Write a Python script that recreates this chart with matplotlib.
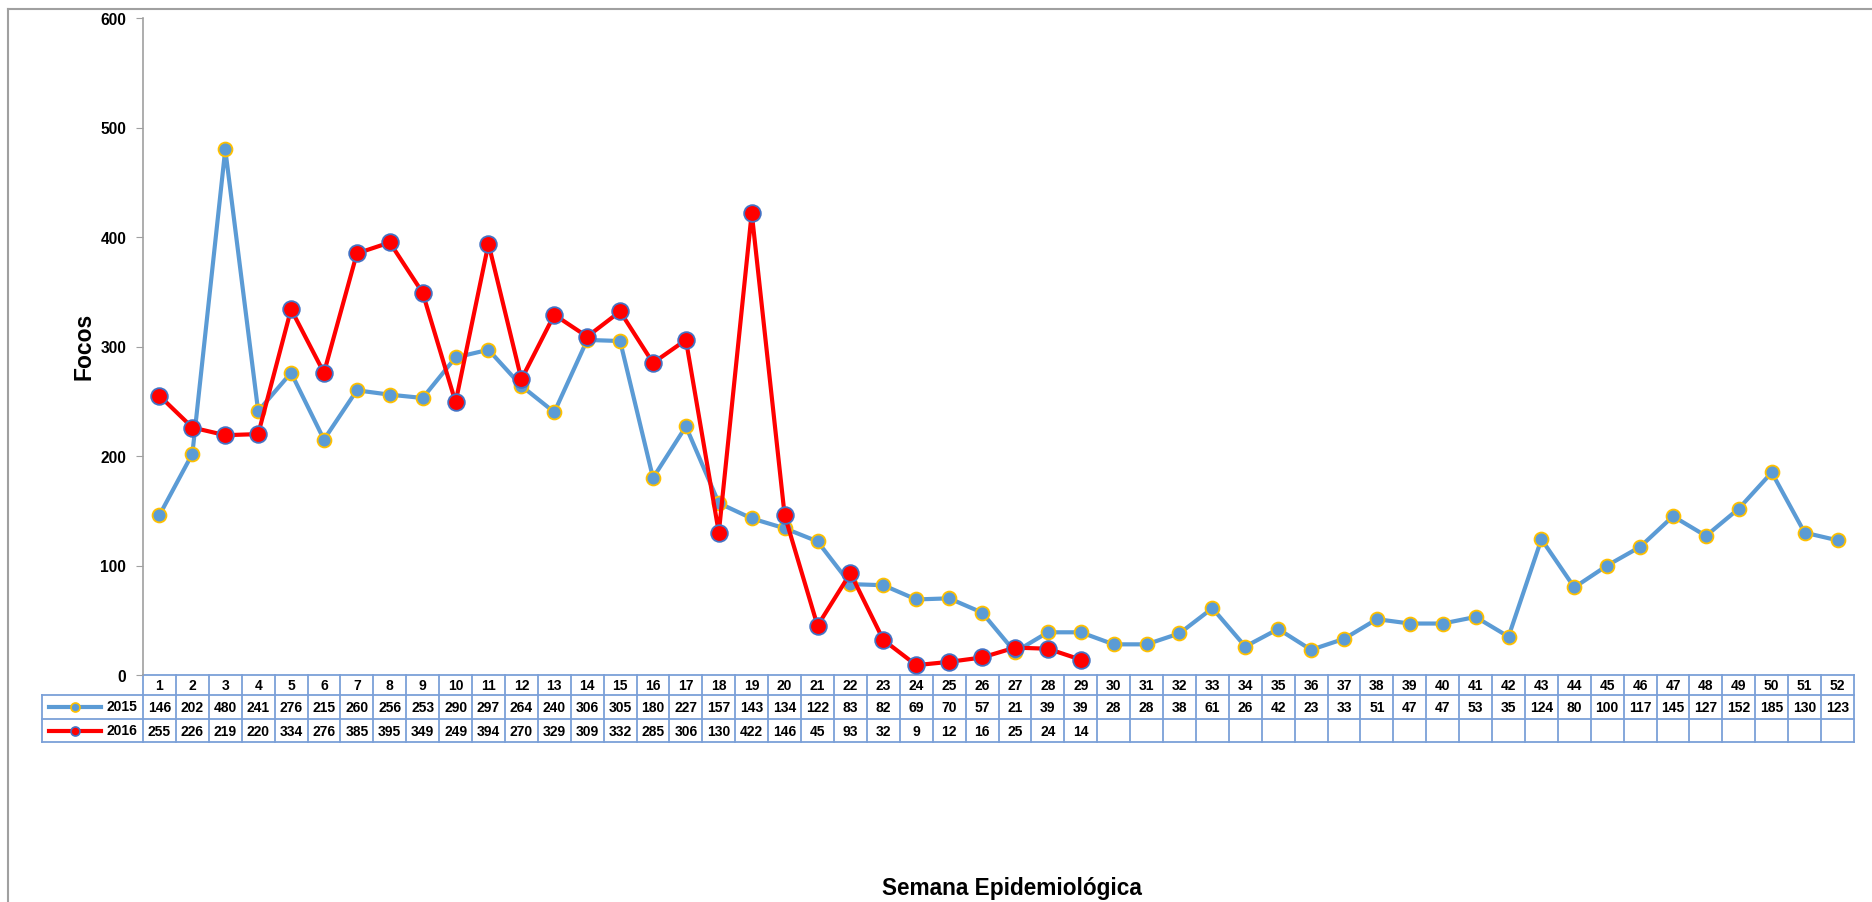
import matplotlib
matplotlib.use("Agg")
import matplotlib.pyplot as plt
from matplotlib.lines import Line2D
from matplotlib.transforms import blended_transform_factory

plt.rcParams["font.family"] = ["Liberation Sans", "DejaVu Sans"]

semanas = list(range(1, 53))
focos_2015 = [146, 202, 480, 241, 276, 215, 260, 256, 253, 290, 297, 264, 240, 306,
              305, 180, 227, 157, 143, 134, 122, 83, 82, 69, 70, 57, 21, 39, 39, 28,
              28, 38, 61, 26, 42, 23, 33, 51, 47, 47, 53, 35, 124, 80, 100, 117, 145,
              127, 152, 185, 130, 123]
focos_2016 = [255, 226, 219, 220, 334, 276, 385, 395, 349, 249, 394, 270, 329, 309,
              332, 285, 306, 130, 422, 146, 45, 93, 32, 9, 12, 16, 25, 24, 14]
yticks = [0, 100, 200, 300, 400, 500, 600]

AZUL = "#5B9BD5"
OURO = "#FFC000"
VERMELHO = "#FF0000"
BORDA_V = "#4472C4"
GRADE = "#7BA0D8"
CINZA = "#A0A0A0"

W, H = 1872, 903
fig = plt.figure(figsize=(W / 100, H / 100), dpi=100)
ax = fig.add_axes([143 / W, (H - 676) / H, (1854 - 143) / W, (676 - 19) / H])

ax.plot(semanas, focos_2015, color=AZUL, lw=3.0, marker="o", ms=10,
        mfc=AZUL, mec=OURO, mew=1.3, zorder=3)
ax.plot(semanas[:len(focos_2016)], focos_2016, color=VERMELHO, lw=3.0, marker="o",
        ms=12, mfc=VERMELHO, mec=BORDA_V, mew=1.3, zorder=4)

ax.set_xlim(0.5, 52.5)
ax.set_ylim(0, 600)
ax.set_yticks(yticks)
ax.set_yticklabels([str(v) for v in yticks], fontweight="bold", fontsize=11.2)
ax.tick_params(axis="y", length=5, color=CINZA, pad=7)
ax.set_xticks([])
for s in ["top", "right", "bottom"]:
    ax.spines[s].set_visible(False)
ax.spines["left"].set_color(CINZA)
ax.spines["left"].set_linewidth(1.2)

# tabela de dados abaixo do eixo
tr = blended_transform_factory(ax.transData, fig.transFigure)
def fy(px):
    return (H - px) / H

linhas = [676, 696, 720, 743]
for yp in linhas:
    ax.plot([0.5, 52.5], [fy(yp)] * 2, transform=tr, color=GRADE, lw=1.3,
            clip_on=False)
for i in range(53):
    ax.plot([0.5 + i, 0.5 + i], [fy(676), fy(743)], transform=tr, color=GRADE,
            lw=1.3, clip_on=False)

tam = 10
for s in semanas:
    ax.text(s, fy(686.5), str(s), transform=tr, ha="center", va="center",
            fontsize=tam, fontweight="bold")
for s, v in zip(semanas, focos_2015):
    ax.text(s, fy(708.5), str(v), transform=tr, ha="center", va="center",
            fontsize=tam, fontweight="bold")
for s, v in zip(semanas, focos_2016):
    ax.text(s, fy(732), str(v), transform=tr, ha="center", va="center",
            fontsize=tam, fontweight="bold")

# celula da legenda
fx = lambda px: px / W
for yp in [696, 720, 743]:
    fig.add_artist(Line2D([fx(42), fx(143)], [fy(yp)] * 2, color=GRADE, lw=1.3))
fig.add_artist(Line2D([fx(42), fx(42)], [fy(696), fy(743)], color=GRADE, lw=1.3))

fig.add_artist(Line2D([fx(49), fx(101)], [fy(708)] * 2, color=AZUL, lw=3.0))
fig.add_artist(Line2D([fx(75)], [fy(708)], marker="o", ms=6.5, mfc=AZUL,
                      mec=OURO, mew=1.2, lw=0))
fig.add_artist(Line2D([fx(49), fx(101)], [fy(732)] * 2, color=VERMELHO, lw=3.0))
fig.add_artist(Line2D([fx(75)], [fy(732)], marker="o", ms=6.5, mfc=VERMELHO,
                      mec=BORDA_V, mew=1.2, lw=0))
fig.text(fx(137), fy(707.5), "2015", ha="right", va="center", fontsize=tam,
         fontweight="bold")
fig.text(fx(137), fy(731), "2016", ha="right", va="center", fontsize=tam,
         fontweight="bold")

fig.text(fx(84), fy(346), "Focos", ha="center", va="center", rotation=90,
         fontsize=16.5, fontweight="bold")
fig.text(fx(1012), fy(889), "Semana Epidemiológica", ha="center", va="center",
         fontsize=16.3, fontweight="bold")

# moldura do grafico
fig.add_artist(Line2D([fx(8), fx(1872)], [fy(9.5)] * 2, color=CINZA, lw=1.5))
fig.add_artist(Line2D([fx(8), fx(8)], [fy(9.5), fy(903)], color=CINZA, lw=1.5))

fig.savefig("out.png", dpi=100)
